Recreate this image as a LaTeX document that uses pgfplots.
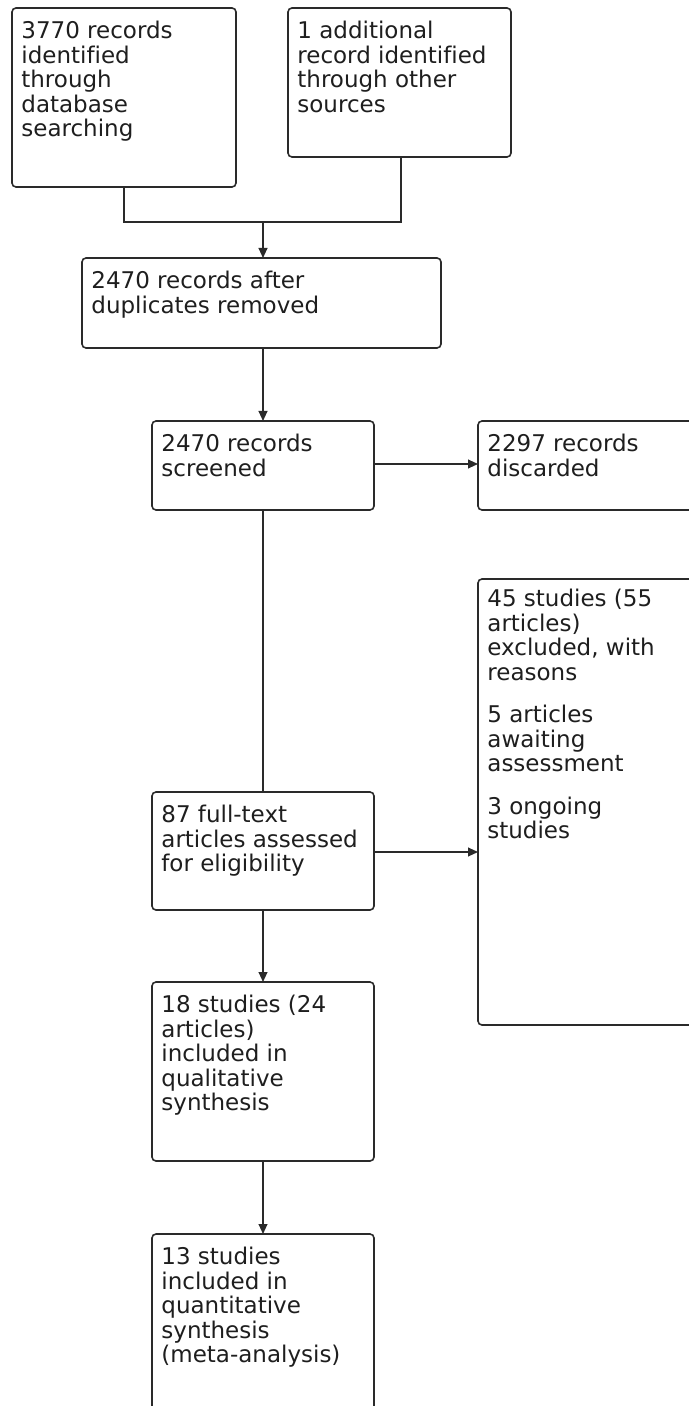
\documentclass[border=0pt]{standalone}
\usepackage{pgfplots}
\pgfplotsset{compat=1.18}
\usepackage{fontspec}
\setmainfont[Ligatures=NoCommon]{DejaVu Sans}
\usetikzlibrary{arrows.meta}
\definecolor{ln}{HTML}{2A2A2A}
\definecolor{tx}{HTML}{1E1E1E}
\tikzset{
  box/.style={draw=ln, line width=0.8pt, rounded corners=2pt},
  lbl/.style={anchor=north west, inner sep=0pt, align=left, text=tx,
    font=\fontsize{11.5pt}{12.25pt}\selectfont},
  con/.style={ln, line width=0.8pt},
  arr/.style={con, -{Triangle[length=5pt,width=4.4pt]}},
}
\begin{document}
\begin{tikzpicture}
\begin{axis}[
  scale only axis, width=344.5pt, height=703pt,
  xmin=0, xmax=689, ymin=0, ymax=1406, y dir=reverse,
  axis lines=none, clip=true,
]
% boxes
\draw[box] (axis cs:12,8) rectangle (axis cs:236,187);
\draw[box] (axis cs:288,8) rectangle (axis cs:511,157);
\draw[box] (axis cs:82,258) rectangle (axis cs:441,348);
\draw[box] (axis cs:152,421) rectangle (axis cs:374,510);
\draw[box] (axis cs:478,421) rectangle (axis cs:710,510);
\draw[box] (axis cs:478,579) rectangle (axis cs:710,1025);
\draw[box] (axis cs:152,792) rectangle (axis cs:374,910);
\draw[box] (axis cs:152,982) rectangle (axis cs:374,1161);
\draw[box] (axis cs:152,1234) rectangle (axis cs:374,1430);
% connectors
\addplot[con, no markers] coordinates {(124,187) (124,222) (401,222) (401,157)};
\addplot[arr, no markers] coordinates {(263,222) (263,258)};
\addplot[arr, no markers] coordinates {(263,348) (263,421)};
\addplot[arr, no markers] coordinates {(374,464) (478,464)};
\addplot[con, no markers] coordinates {(263,510) (263,792)};
\addplot[arr, no markers] coordinates {(374,852) (478,852)};
\addplot[arr, no markers] coordinates {(263,910) (263,982)};
\addplot[arr, no markers] coordinates {(263,1161) (263,1234)};
% texts
\node[lbl] at (axis cs:21,21) {3770 records\\identified\\through\\database\\searching};
\node[lbl] at (axis cs:297,21) {1 additional\\record identified\\through other\\sources};
\node[lbl] at (axis cs:91,271) {2470 records after\\duplicates removed};
\node[lbl] at (axis cs:161,434) {2470 records\\screened};
\node[lbl] at (axis cs:487,434) {2297 records\\discarded};
\node[lbl] at (axis cs:487,589) {45 studies (55\\articles)\\excluded, with\\reasons\\[9pt]5 articles\\awaiting\\assessment\\[9pt]3 ongoing\\studies};
\node[lbl] at (axis cs:161,805) {87 full-text\\articles assessed\\for eligibility};
\node[lbl] at (axis cs:161,995) {18 studies (24\\articles)\\included in\\qualitative\\synthesis};
\node[lbl] at (axis cs:161,1247) {13 studies\\included in\\quantitative\\synthesis\\(meta-analysis)};
\end{axis}
\pgfresetboundingbox
\path (current axis.south west) rectangle (current axis.north east);
\end{tikzpicture}
\end{document}
